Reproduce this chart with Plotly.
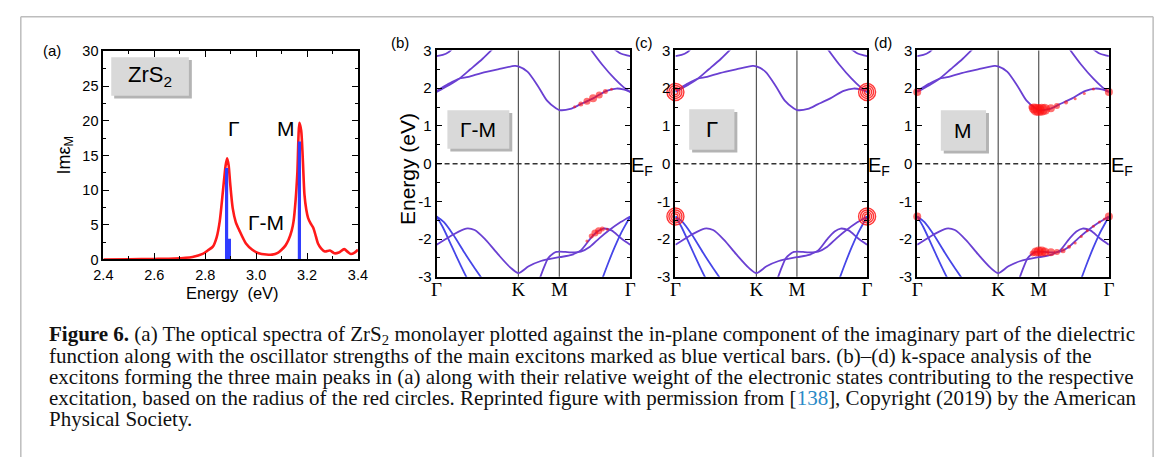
import plotly.graph_objects as go

W, H = 1170, 465


def px(x):
    return x / W


def py(y):
    return 1 - y / H


# ---------------- panel (a) data ----------------
spec_E = [2.40, 2.50, 2.60, 2.68, 2.75, 2.79, 2.81, 2.83, 2.845, 2.857, 2.87, 2.88, 2.886, 2.892,
          2.898, 2.908, 2.92, 2.934, 2.96, 2.985, 3.01, 3.04, 3.063, 3.085, 3.10, 3.115, 3.127,
          3.14, 3.147, 3.155, 3.162, 3.17, 3.177, 3.183, 3.19, 3.197, 3.204, 3.214, 3.224, 3.235,
          3.243, 3.255, 3.27, 3.29, 3.307, 3.325, 3.346, 3.36, 3.372, 3.387, 3.40]
spec_I = [0.0, 0.04, 0.08, 0.14, 0.37, 0.8, 1.3, 1.85, 3.2, 5.5, 10.0, 13.5, 14.6, 13.6,
          11.0, 7.4, 5.4, 4.2, 2.3, 1.4, 0.9, 0.72, 0.7, 0.95, 1.4, 2.0, 2.8,
          4.2, 5.5, 8.5, 12.5, 19.7, 18.6, 14.8, 9.3, 7.2, 6.0, 5.2, 4.6, 3.3,
          2.3, 1.6, 1.15, 1.3, 0.9, 1.0, 1.5, 1.1, 0.8, 1.0, 1.4]
bar_E = [2.884, 2.895, 3.170]
bar_H = [13.2, 3.0, 17.0]
a_xticks = [2.4, 2.6, 2.8, 3.0, 3.2, 3.4]
a_xlabels = ["2.4", "2.6", "2.8", "3.0", "3.2", "3.4"]
a_yticks = [0, 5, 10, 15, 20, 25, 30]

# ---------------- band structure data (k along Γ-K-M-Γ) ----------------
k_ticks = [0.0, 1.333, 2.0, 3.155]
k_labels = ["Γ", "K", "M", "Γ"]
e_ticks = [-3, -2, -1, 0, 1, 2, 3]
e_labels = ["-3", "-2", "-1", "0", "1", "2", "3"]

cb1_k = [0, 0.2, 0.36, 0.52, 0.73, 1.0, 1.27, 1.333, 1.48, 1.65, 1.8, 1.95, 2.0, 2.18, 2.34,
         2.55, 2.77, 2.93, 3.04, 3.155]
cb1_E = [1.92, 2.12, 2.25, 2.3, 2.4, 2.5, 2.59, 2.58, 2.44, 2.06, 1.67, 1.46, 1.42, 1.45, 1.57,
         1.73, 1.93, 1.99, 1.97, 1.9]
cb2L_k = [0, 0.2, 0.36, 0.55, 0.75, 0.92]
cb2L_E = [1.9, 2.08, 2.24, 2.5, 2.78, 3.05]
cb2R_k = [2.5, 2.7, 2.9, 3.05, 3.155]
cb2R_E = [3.05, 2.62, 2.25, 2.02, 1.9]
cb3L_k = [0, 0.1, 0.2, 0.26]
cb3L_E = [2.85, 2.88, 2.96, 3.05]
cb3R_k = [2.88, 3.0, 3.1, 3.155]
cb3R_E = [3.05, 2.92, 2.87, 2.85]

vb1_k = [0, 0.1, 0.25, 0.4, 0.5]
vb1_E = [-1.4, -1.68, -2.2, -2.72, -3.05]
vb2_k = [0, 0.12, 0.27, 0.45, 0.6, 0.74]
vb2_E = [-1.4, -1.55, -1.88, -2.35, -2.72, -3.05]
vb3_k = [0, 0.15, 0.27, 0.48, 0.62, 0.8, 1.0, 1.2, 1.333, 1.5, 1.7, 2.0, 2.2, 2.35, 2.5,
         2.62, 2.72, 2.85, 3.0, 3.155]
vb3_E = [-2.15, -2.0, -1.88, -1.72, -1.76, -2.02, -2.4, -2.75, -2.9, -2.72, -2.58, -2.48, -2.42,
         -2.3, -2.0, -1.8, -1.72, -1.77, -1.97, -2.15]
vb4_k = [1.68, 1.75, 1.82, 1.9, 1.95, 2.0, 2.1, 2.2, 2.35, 2.5, 2.65, 2.8, 3.0, 3.155]
vb4_E = [-3.05, -2.75, -2.5, -2.38, -2.34, -2.33, -2.34, -2.35, -2.33, -2.2, -1.98, -1.78,
         -1.55, -1.4]
vb5_k = [2.7, 2.8, 2.9, 3.0, 3.1, 3.155]
vb5_E = [-3.05, -2.62, -2.22, -1.86, -1.56, -1.4]

# exciton weights (red circles)
b_cb_k = [2.25, 2.35, 2.45, 2.55, 2.65, 2.75, 2.85]
b_cb_E = [1.51, 1.58, 1.65, 1.73, 1.82, 1.91, 1.97]
b_cb_w = [3, 5, 7, 8, 7, 5, 3]
b_vb_k = [2.45, 2.52, 2.58, 2.64, 2.7, 2.78]
b_vb_E = [-2.05, -1.92, -1.84, -1.78, -1.73, -1.74]
b_vb_w = [3, 5, 7, 7, 5, 3]

c_k = [0.0, 0.0, 3.155, 3.155]
c_E = [1.9, -1.4, 1.9, -1.4]
c_rings = [5, 9, 13, 17]

d_g_k = [0.0, 0.0, 3.155, 3.155]
d_g_E = [1.9, -1.4, 1.9, -1.4]
d_g_w = [8, 8, 8, 8]
d_cb_k = [1.88, 1.92, 1.96, 2.0, 2.05, 2.1, 2.2, 2.3, 2.45, 2.6, 2.75, 2.9]
d_cb_E = [1.5, 1.46, 1.43, 1.42, 1.43, 1.44, 1.47, 1.53, 1.62, 1.72, 1.86, 1.98]
d_cb_w = [6, 10, 12, 12, 12, 11, 8, 6, 4, 3, 3, 3]
d_vb_k = [1.9, 1.95, 2.0, 2.05, 2.1, 2.2, 2.3, 2.4, 2.5, 2.6, 2.7, 2.8, 2.9, 3.0, 3.08]
d_vb_E = [-2.38, -2.34, -2.33, -2.33, -2.34, -2.35, -2.34, -2.31, -2.2, -2.1, -1.93, -1.78,
          -1.66, -1.55, -1.47]
d_vb_w = [6, 9, 10, 10, 9, 8, 6, 5, 4, 3, 3, 3, 3, 3, 3]

PURPLE = "#6a40d2"
BLUE = "#4646e8"
bands = [
    (cb1_k, cb1_E, PURPLE), (cb2L_k, cb2L_E, PURPLE), (cb2R_k, cb2R_E, PURPLE),
    (cb3L_k, cb3L_E, PURPLE), (cb3R_k, cb3R_E, PURPLE),
    (vb1_k, vb1_E, BLUE), (vb2_k, vb2_E, BLUE), (vb3_k, vb3_E, PURPLE),
    (vb4_k, vb4_E, PURPLE), (vb5_k, vb5_E, BLUE),
]

SANS = "Liberation Sans, Arial, sans-serif"
SERIF = "Liberation Serif, Times New Roman, serif"

fig = go.Figure()

# panel (a)
fig.add_trace(go.Scatter(x=spec_E, y=spec_I, mode="lines", xaxis="x", yaxis="y",
                         line=dict(color="#ff1a1a", width=2.6, shape="spline", smoothing=0.7),
                         showlegend=False, hoverinfo="skip"))
bx, by = [], []
for e, h in zip(bar_E, bar_H):
    bx += [e, e, None]
    by += [0, h, None]
fig.add_trace(go.Scatter(x=bx, y=by, mode="lines", xaxis="x", yaxis="y",
                         line=dict(color="#2f3cff", width=3.2), showlegend=False,
                         hoverinfo="skip"))

# panels (b)-(d)
for i in (2, 3, 4):
    xa, ya = f"x{i}", f"y{i}"
    for kk, ee, col in bands:
        fig.add_trace(go.Scatter(x=kk, y=ee, mode="lines", xaxis=xa, yaxis=ya,
                                 line=dict(color=col, width=1.8, shape="spline", smoothing=0.8),
                                 showlegend=False, hoverinfo="skip"))

RED = "rgba(255,15,15,0.85)"
for kk, ee, ww in ((b_cb_k, b_cb_E, b_cb_w), (b_vb_k, b_vb_E, b_vb_w)):
    fig.add_trace(go.Scatter(x=kk, y=ee, mode="markers", xaxis="x2", yaxis="y2",
                             marker=dict(size=ww, color=RED, line=dict(width=0)),
                             showlegend=False, hoverinfo="skip"))
for r in c_rings:
    fig.add_trace(go.Scatter(x=c_k, y=c_E, mode="markers", xaxis="x3", yaxis="y3",
                             cliponaxis=False,
                             marker=dict(size=r, color="rgba(255,20,20,0.85)",
                                         symbol="circle-open", line=dict(width=1.4)),
                             showlegend=False, hoverinfo="skip"))
for kk, ee, ww in ((d_g_k, d_g_E, d_g_w), (d_cb_k, d_cb_E, d_cb_w), (d_vb_k, d_vb_E, d_vb_w)):
    fig.add_trace(go.Scatter(x=kk, y=ee, mode="markers", xaxis="x4", yaxis="y4",
                             cliponaxis=False,
                             marker=dict(size=ww, color=RED, line=dict(width=0)),
                             showlegend=False, hoverinfo="skip"))

axis_common = dict(showline=True, linewidth=2, linecolor="black", mirror="ticks",
                   showgrid=False, zeroline=False, tickcolor="black")

layout = dict(
    width=W, height=H, margin=dict(l=0, r=0, t=0, b=0),
    paper_bgcolor="white", plot_bgcolor="rgba(0,0,0,0)",
    font=dict(family=SANS, color="black"),
    xaxis=dict(domain=[px(95), px(354)], range=[2.4, 3.4], anchor="y",
               tickvals=a_xticks, ticktext=a_xlabels, ticks="inside", ticklen=6,
               ticklabelstandoff=1,
               minor=dict(dtick=0.1, tick0=2.4, ticks="inside", ticklen=3, tickcolor="black"),
               tickfont=dict(size=14.5, family=SANS), **axis_common),
    yaxis=dict(domain=[py(260), py(44)], range=[0, 30], anchor="x",
               tickvals=a_yticks, ticks="inside", ticklen=6,
               minor=dict(dtick=2.5, tick0=0, ticks="inside", ticklen=3, tickcolor="black"),
               tickfont=dict(size=14.5, family=SANS), **axis_common),
)
doms = {2: (434, 631), 3: (677, 872), 4: (923, 1118)}
for i, (x0, x1) in doms.items():
    layout[f"xaxis{i}"] = dict(domain=[px(x0), px(x1)], range=[0, 3.155], anchor=f"y{i}",
                               tickvals=k_ticks, ticktext=k_labels, ticks="",
                               ticklabelstandoff=-6,
                               tickfont=dict(size=19, family=SERIF), **axis_common)
    layout[f"yaxis{i}"] = dict(domain=[py(278), py(43)], range=[-3, 3], anchor=f"x{i}",
                               tickvals=e_ticks, ticktext=e_labels, ticks="inside", ticklen=5,
                               minor=dict(dtick=0.5, tick0=-3, ticks="inside", ticklen=3,
                                          tickcolor="black"),
                               tickfont=dict(size=15, family=SANS), **axis_common)
fig.update_layout(**layout)

shapes = []
for i in (2, 3, 4):
    for kv in (k_ticks[1], k_ticks[2]):
        shapes.append(dict(type="line", xref=f"x{i}", yref=f"y{i} domain", x0=kv, x1=kv,
                           y0=0, y1=1, line=dict(color="#555555", width=1.2), layer="below"))
    shapes.append(dict(type="line", xref=f"x{i}", yref=f"y{i}", x0=0, x1=k_ticks[-1], y0=0,
                       y1=0, line=dict(color="#333333", width=1.5, dash="5px,3px"),
                       layer="below"))

# label boxes (paper pixel positions)
boxes = [(103, 50, 182, 90), (445, 105, 508, 145), (691, 104, 737, 146), (947, 105, 993, 147)]
for (x0, y0, x1, y1) in boxes:
    shapes.append(dict(type="rect", xref="paper", yref="paper", x0=px(x0 + 3), x1=px(x1 + 3),
                       y0=py(y1 + 3), y1=py(y0 + 3), fillcolor="#b4b4b4",
                       line=dict(width=0)))
    shapes.append(dict(type="rect", xref="paper", yref="paper", x0=px(x0), x1=px(x1),
                       y0=py(y1), y1=py(y0), fillcolor="#d9d9d9", line=dict(width=0)))

# outer frame
fc = "#bdbdbd"
shapes.append(dict(type="line", xref="paper", yref="paper", x0=px(11), x1=px(11), y0=0,
                   y1=py(8), line=dict(color=fc, width=1.5)))
shapes.append(dict(type="line", xref="paper", yref="paper", x0=px(1163), x1=px(1163), y0=0,
                   y1=py(8), line=dict(color=fc, width=1.5)))
shapes.append(dict(type="line", xref="paper", yref="paper", x0=px(11), x1=px(1163),
                   y0=py(8), y1=py(8), line=dict(color=fc, width=1.5)))
fig.update_layout(shapes=shapes)

ann = []


def note(x, y, text, size, family=SANS, angle=0, xanchor="center", color="black"):
    ann.append(dict(x=px(x), y=py(y), xref="paper", yref="paper", text=text, showarrow=False,
                    font=dict(size=size, family=family, color=color), textangle=angle,
                    xanchor=xanchor, yanchor="middle"))


note(142, 70, "ZrS<sub>2</sub>", 22)
note(476, 125, "Γ-M", 21)
note(714, 125, "Γ", 22)
note(970, 126, "M", 21)
note(43, 43, "(a)", 15)
note(397, 35, "(b)", 15)
note(645, 35, "(c)", 15)
note(888, 35, "(d)", 15)
note(56, 152, "Imε<sub>M</sub>", 18, angle=-90)
note(226, 295, "Energy  (eV)", 16.5)
note(405, 166, "Energy (eV)", 21, angle=-90)
note(643, 163, "E<sub>F</sub>", 20)
note(884, 163, "E<sub>F</sub>", 20)
note(1131, 163, "E<sub>F</sub>", 20)

# annotations on panel (a) in data coordinates
for xv, yv, t in ((2.912, 18.9, "Γ"), (3.118, 18.9, "M"), (3.037, 5.35, "Γ-M")):
    ann.append(dict(x=xv, y=yv, xref="x", yref="y", text=t, showarrow=False,
                    font=dict(size=21, family=SANS, color="black")))

caption = [
    "<b>Figure 6.</b> (a) The optical spectra of ZrS<sub>2</sub> monolayer plotted against the "
    "in-plane component of the imaginary part of the dielectric",
    "function along with the oscillator strengths of the main excitons marked as blue vertical "
    "bars. (b)–(d) k-space analysis of the",
    "excitons forming the three main peaks in (a) along with their relative weight of the "
    "electronic states contributing to the respective",
    "excitation, based on the radius of the red circles. Reprinted figure with permission from "
    "[<span style='color:#2a8ac6'>138</span>], Copyright (2019) by the American",
    "Physical Society.",
]
for j, line in enumerate(caption):
    note(38, 338 + 22 * j, line, 21, family=SERIF, xanchor="left", color="#111111")

fig.update_layout(annotations=ann)
fig.write_html("out.html")
